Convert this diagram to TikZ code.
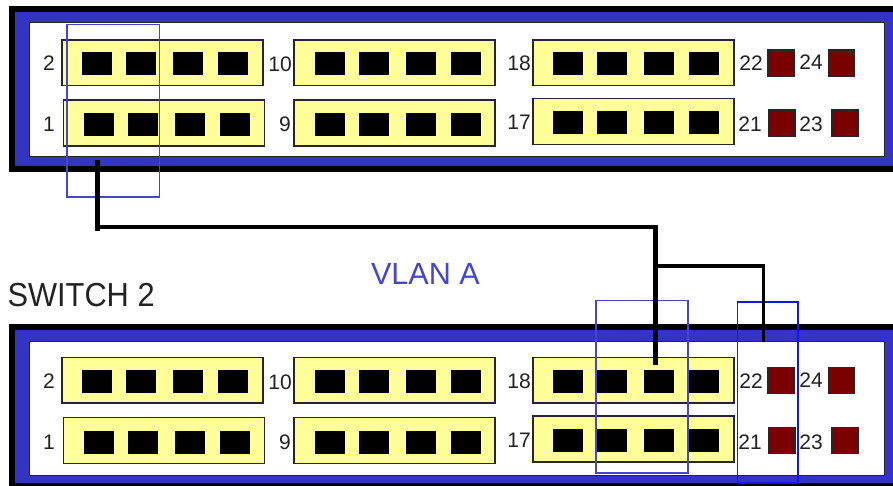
\documentclass[tikz,border=0pt]{standalone}
\usepackage{fontspec}
\setmainfont{Liberation Sans}
\definecolor{casing}{HTML}{3333C4}
\definecolor{panelfill}{HTML}{FFFF99}
\definecolor{ledred}{HTML}{7B0000}
\definecolor{framea}{HTML}{4545D0}
\definecolor{frameb}{HTML}{1414F0}
\definecolor{inktext}{HTML}{222222}
\tikzset{
  px/.style={inner sep=0pt,outer sep=0pt},
  outerbox/.style={px,fill=black},
  casingbox/.style={px,fill=casing},
  facebox/.style={px,fill=white,draw=black!85,line width=1pt},
  panelbox/.style={px,fill=panelfill,draw=black!85,line width=1.2pt},
  portbox/.style={px,fill=black},
  ledbox/.style={px,fill=ledred,draw=black!85,line width=1.1pt},
  framebox/.style={px,draw=#1,line width=1.5pt},
  numlabel/.style={px,font=\fontsize{21}{21}\selectfont,text=inktext},
  wirethick/.style={line width=5pt,black},
  wiremid/.style={line width=4pt,black},
  wirethin/.style={line width=3.5pt,black}
}
% \rectnode{style}{name}{x0}{y0}{x1}{y1}
\newcommand{\rectnode}[6]{%
  \pgfmathsetmacro{\rcx}{((#3)+(#5))/2}\pgfmathsetmacro{\rcy}{((#4)+(#6))/2}%
  \pgfmathsetmacro{\rw}{(#5)-(#3)}\pgfmathsetmacro{\rh}{(#6)-(#4)}%
  \node[#1,minimum width=\rw pt,minimum height=\rh pt] (#2) at (\rcx,\rcy) {};}
% \fourports{prefix}{first x}{second}{third}{fourth}{y0}
\newcommand{\fourports}[6]{%
  \rectnode{portbox}{#1a}{#2}{#6}{#2+30}{#6+23}%
  \rectnode{portbox}{#1b}{#3}{#6}{#3+30}{#6+23}%
  \rectnode{portbox}{#1c}{#4}{#6}{#4+30}{#6+23}%
  \rectnode{portbox}{#1d}{#5}{#6}{#5+30}{#6+23}}
% \switchface{prefix}{y offset}
\newcommand{\switchface}[2]{%
  \rectnode{panelbox}{#1pA}{62}{40+#2}{263}{85.5+#2}
  \rectnode{panelbox}{#1pB}{63.5}{100+#2}{264.5}{146+#2}
  \rectnode{panelbox}{#1pC}{294}{40+#2}{495}{85.5+#2}
  \rectnode{panelbox}{#1pD}{294}{100+#2}{495}{146+#2}
  \rectnode{panelbox}{#1pE}{533}{40+#2}{734}{85.5+#2}
  \rectnode{panelbox}{#1pF}{533}{98.5+#2}{734}{144.5+#2}
  \fourports{#1A}{82}{126}{173}{218}{52+#2}
  \fourports{#1B}{84}{128}{175}{220}{113+#2}
  \fourports{#1C}{315}{359}{406}{451}{52+#2}
  \fourports{#1D}{315}{359}{406}{451}{113+#2}
  \fourports{#1E}{553}{597}{644}{689}{52+#2}
  \fourports{#1F}{553}{597}{644}{689}{111+#2}
  \rectnode{ledbox}{#1l22}{768}{50+#2}{794}{76+#2}
  \rectnode{ledbox}{#1l24}{828.5}{50+#2}{854.5}{76+#2}
  \rectnode{ledbox}{#1l21}{769}{110+#2}{795}{136+#2}
  \rectnode{ledbox}{#1l23}{832}{110+#2}{858}{136+#2}
  \node[numlabel] (#1n2) at (49,63.5+#2) {2};
  \node[numlabel] (#1n1) at (49,124.5+#2) {1};
  \node[numlabel] (#1n10) at (280,64.5+#2) {10};
  \node[numlabel] (#1n9) at (285,124.5+#2) {9};
  \node[numlabel] (#1n18) at (519,63.5+#2) {18};
  \node[numlabel] (#1n17) at (519,122.5+#2) {17};
  \node[numlabel] (#1n22) at (751,63.5+#2) {22};
  \node[numlabel] (#1n24) at (811,62.5+#2) {24};
  \node[numlabel] (#1n21) at (750,124.5+#2) {21};
  \node[numlabel] (#1n23) at (811,124.5+#2) {23};}
\begin{document}
\begin{tikzpicture}[x=1pt,y=-1pt]
\useasboundingbox (0,0) rectangle (893,486);
\fill[white] (0,0) rectangle (893,486);
% top switch
\rectnode{outerbox}{topouter}{9}{6}{893}{172}
\rectnode{casingbox}{topcase}{15}{12}{893}{166}
\rectnode{facebox}{topface}{29}{23}{884}{157}
\switchface{t}{0}
% bottom switch
\begin{scope}
\clip (0,0) rectangle (893,486);
\rectnode{outerbox}{botouter}{9}{324}{893}{490}
\rectnode{casingbox}{botcase}{15}{330}{893}{483}
\rectnode{facebox}{botface}{29}{341}{884}{475}
\end{scope}
\switchface{b}{317.5}
% grouping frames
\rectnode{framebox=framea}{frameone}{67}{24.5}{159.5}{197}
\rectnode{framebox=framea}{frametwo}{596}{300.5}{688}{473}
\rectnode{framebox=frameb,line width=1.8pt}{framethree}{737.5}{302}{798}{483}
% wires
\coordinate (wA) at (97.5,160);
\coordinate (wTail) at (97.5,231);
\coordinate (wTurnA) at (97.5,227);
\coordinate (wB) at (657.5,227);
\coordinate (wTop) at (655.7,225);
\coordinate (wC) at (655.7,365);
\coordinate (wJ) at (655.7,266);
\coordinate (wK) at (763.5,266);
\coordinate (wL) at (763.5,341.5);
\draw[wirethick] (wA) -- (wTail);
\draw[wiremid] (wTurnA) -- (wB);
\draw[wirethick] (wTop) -- (wC);
\draw[wirethin] (wJ) -- (wK) -- (wL);
% titles
\node[px,anchor=base west,yscale=1.08,font=\fontsize{30.8}{31}\selectfont,text=inktext] (swlabel) at (7.5,306) {SWITCH 2};
\node[px,anchor=base west,font=\fontsize{30.6}{31}\selectfont,text=framea] (vlanlabel) at (371,284) {VLAN A};
\end{tikzpicture}
\end{document}
